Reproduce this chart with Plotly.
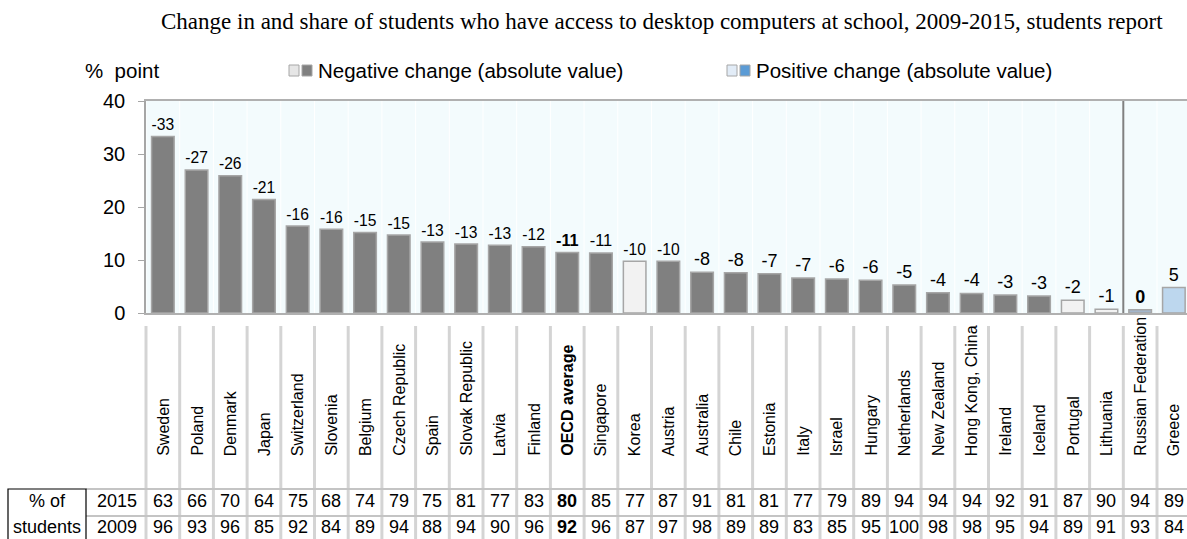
import plotly.graph_objects as go

categories = ["Sweden", "Poland", "Denmark", "Japan", "Switzerland", "Slovenia", "Belgium",
              "Czech Republic", "Spain", "Slovak Republic", "Latvia", "Finland", "OECD average",
              "Singapore", "Korea", "Austria", "Australia", "Chile", "Estonia", "Italy", "Israel",
              "Hungary", "Netherlands", "New Zealand", "Hong Kong, China", "Ireland", "Iceland",
              "Portugal", "Lithuania", "Russian Federation", "Greece"]
abs_change = [33.3, 27.0, 25.9, 21.4, 16.4, 15.8, 15.2, 14.7, 13.4, 13.0, 12.8, 12.5, 11.4,
              11.3, 9.75, 9.75, 7.7, 7.6, 7.4, 6.6, 6.4, 6.2, 5.3, 3.8, 3.7, 3.4, 3.2,
              2.4, 0.7, 0.6, 4.8]
change_labels = [-33, -27, -26, -21, -16, -16, -15, -15, -13, -13, -13, -12, -11, -11, -10, -10,
                 -8, -8, -7, -7, -6, -6, -5, -4, -4, -3, -3, -2, -1, 0, 5]
# bar type: N = negative significant, n = negative not significant, R = no change, p = positive n.s.
bar_type = ["N"] * 14 + ["n"] + ["N"] * 12 + ["n", "n", "R", "p"]
share_2015 = [63, 66, 70, 64, 75, 68, 74, 79, 75, 81, 77, 83, 80, 85, 77, 87, 91, 81, 81, 77, 79,
              89, 94, 94, 94, 92, 91, 87, 90, 94, 89]
share_2009 = [96, 93, 96, 85, 92, 84, 89, 94, 88, 94, 90, 96, 92, 96, 87, 97, 98, 89, 89, 83, 85,
              95, 100, 98, 98, 95, 94, 89, 91, 93, 84]
bold_cats = ["OECD average"]
bold_labels = ["OECD average", "Russian Federation"]

W, H = 1187, 539
ML, MR, MT, MB = 146, 0, 101, 226
PW, PH = W - ML - MR, H - MT - MB
Y0 = MT + PH  # pixel y of plot bottom


def py(p):
    return (Y0 - p) / PH


def px(p):
    return (p - ML) / PW


FONT = "Liberation Sans, Arial, sans-serif"
fill_map = {"N": "#808080", "n": "#f2f2f2", "R": "#a3b5ca", "p": "#bdd7ee"}
colors = [fill_map[t] for t in bar_type]
texts = [f"<b>{v}</b>" if c in bold_labels else str(v) for v, c in zip(change_labels, categories)]

fig = go.Figure()
fig.add_trace(go.Bar(
    x=categories, y=abs_change, text=texts, textposition="outside",
    textfont=dict(size=18, color="#000000", family=FONT),
    marker=dict(color=colors, line=dict(color="#a6a6a6", width=1.5)),
    cliponaxis=False, showlegend=False, hoverinfo="skip",
))

n = len(categories)
slot_px = 33.7
xmax = -0.5 + PW / slot_px

shapes = []
for k in range(n):
    shapes.append(dict(type="line", xref="x", yref="y", x0=k - 0.5, x1=k - 0.5, y0=0, y1=40,
                       line=dict(color="#ffffff", width=1), layer="below"))
shapes.append(dict(type="line", xref="x", yref="y", x0=28.5, x1=28.5, y0=0, y1=40,
                   line=dict(color="#808080", width=2)))
for k in range(n + 1):
    xp = ML + slot_px * k
    if xp > W + 2:
        break
    shapes.append(dict(type="line", xref="paper", yref="paper", x0=px(xp), x1=px(xp),
                       y0=py(326), y1=py(545), line=dict(color="#d4d4d4", width=3)))
for yy in (489, 516):
    shapes.append(dict(type="line", xref="paper", yref="paper", x0=px(86), x1=px(W + 5),
                       y0=py(yy), y1=py(yy), line=dict(color="#c4c4c4", width=2)))
shapes.append(dict(type="rect", xref="paper", yref="paper", x0=px(8), x1=px(86),
                   y0=py(489), y1=py(548), line=dict(color="#000000", width=1.2)))


def sq(x0, x1, fill, border):
    return dict(type="rect", xref="paper", yref="paper", x0=px(x0), x1=px(x1), y0=py(76), y1=py(65),
                fillcolor=fill, line=dict(color=border, width=1))


shapes += [sq(289, 299, "#e6e6e6", "#a6a6a6"), sq(302, 312, "#808080", "#a6a6a6"),
           sq(727, 737, "#e2ecf7", "#a6a6a6"), sq(740, 750, "#5b9bd5", "#a6a6a6")]

ann = []
ann.append(dict(text="Change in and share of students who have access to desktop computers at school, 2009-2015, students report",
                xref="paper", yref="paper", x=px(662), y=py(21), xanchor="center", yanchor="middle",
                showarrow=False, font=dict(family="Liberation Serif, Times New Roman, serif", size=23, color="#000")))
ann.append(dict(text="%  point", xref="paper", yref="paper", x=px(83), y=py(71), xanchor="left",
                yanchor="middle", showarrow=False, font=dict(family=FONT, size=20.5, color="#000")))
ann.append(dict(text="Negative change (absolute value)", xref="paper", yref="paper", x=px(316), y=py(71),
                xanchor="left", yanchor="middle", showarrow=False, font=dict(family=FONT, size=20.5, color="#000")))
ann.append(dict(text="Positive change (absolute value)", xref="paper", yref="paper", x=px(754), y=py(71),
                xanchor="left", yanchor="middle", showarrow=False, font=dict(family=FONT, size=20.5, color="#000")))

for c, v15, v09 in zip(categories, share_2015, share_2009):
    lab = f"<b>{c}</b>" if c in bold_cats else c
    ann.append(dict(text=lab, xref="x", yref="paper", x=c, y=py(458), textangle=-90,
                    xanchor="center", yanchor="bottom", showarrow=False,
                    font=dict(family=FONT, size=16, color="#000")))
    t15 = f"<b>{v15}</b>" if c in bold_cats else str(v15)
    t09 = f"<b>{v09}</b>" if c in bold_cats else str(v09)
    ann.append(dict(text=t15, xref="x", yref="paper", x=c, y=py(501), xanchor="center", yanchor="middle",
                    showarrow=False, font=dict(family=FONT, size=18, color="#000")))
    ann.append(dict(text=t09, xref="x", yref="paper", x=c, y=py(527), xanchor="center", yanchor="middle",
                    showarrow=False, font=dict(family=FONT, size=18, color="#000")))

for txt, xx, yy in (("% of", 47, 501), ("students", 47, 527), ("2015", 117, 501), ("2009", 117, 527)):
    ann.append(dict(text=txt, xref="paper", yref="paper", x=px(xx), y=py(yy), xanchor="center",
                    yanchor="middle", showarrow=False, font=dict(family=FONT, size=18, color="#000")))

fig.update_layout(
    width=W, height=H, margin=dict(l=ML, r=MR, t=MT, b=MB, pad=0),
    paper_bgcolor="#ffffff", plot_bgcolor="#f3fbfd",
    bargap=0.33, shapes=shapes, annotations=ann,
    font=dict(family=FONT, color="#000"),
    xaxis=dict(type="category", range=[-0.5, xmax], showticklabels=False, ticks="",
               showline=True, linecolor="#b0b0b0", linewidth=1.5, mirror=True, showgrid=False,
               zeroline=False, fixedrange=True),
    yaxis=dict(range=[0, 40], tickvals=[0, 10, 20, 30, 40], ticks="outside", ticklen=6,
               tickcolor="#a6a6a6", showline=True, linecolor="#a6a6a6", linewidth=1.5,
               showgrid=False, zeroline=False, tickfont=dict(size=20, family=FONT, color="#000"),
               ticklabelstandoff=9, fixedrange=True),
)
fig.write_html("out.html")
